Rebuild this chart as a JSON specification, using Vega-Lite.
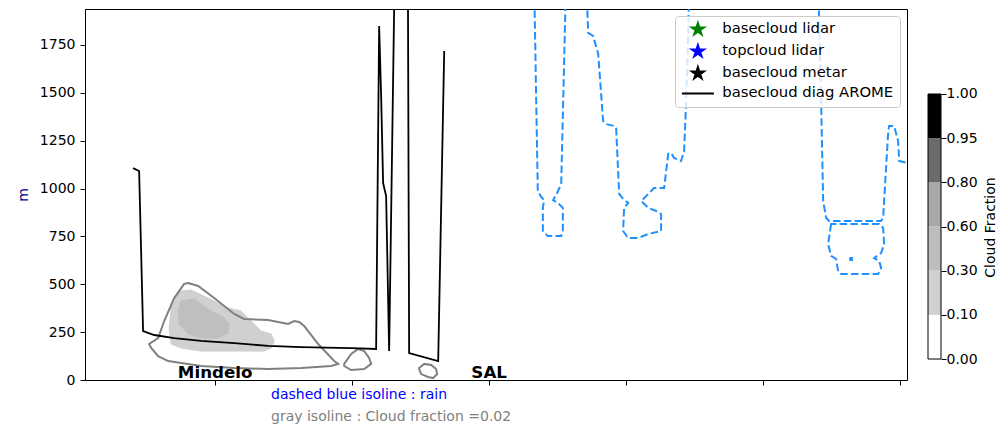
{
  "$schema": "https://vega.github.io/schema/vega-lite/v6.json",
  "background": "white",
  "padding": {"left": 15, "top": 8, "right": 0, "bottom": 0},
  "config": {"font": "DejaVu Sans", "view": {"stroke": null}},
  "datasets": {
    "arome": [
      {"i": 1, "x": -59.9, "y": 1107}, {"i": 2, "x": -55.5, "y": 1092}, {"i": 3, "x": -52.6, "y": 256},
      {"i": 4, "x": -44.5, "y": 235}, {"i": 5, "x": -29.9, "y": 219}, {"i": 6, "x": -10.2, "y": 204},
      {"i": 7, "x": 13.9, "y": 193}, {"i": 8, "x": 38.7, "y": 178}, {"i": 9, "x": 62.8, "y": 172},
      {"i": 10, "x": 99.3, "y": 167}, {"i": 11, "x": 117.5, "y": 162}, {"i": 12, "x": 119.7, "y": 1849},
      {"i": 13, "x": 121.2, "y": 1473}, {"i": 14, "x": 122.6, "y": 1029}, {"i": 15, "x": 124.8, "y": 961},
      {"i": 16, "x": 127.0, "y": 151}, {"i": 17, "x": 131.8, "y": 2502}, {"i": 18, "x": 140.5, "y": 2502},
      {"i": 19, "x": 141.6, "y": 141}, {"i": 20, "x": 162.8, "y": 99}, {"i": 21, "x": 167.2, "y": 1719}
    ],
    "fill": [
      {"level": "0.10-0.30", "i": 1, "x": -24.8, "y": 465}, {"level": "0.10-0.30", "i": 2, "x": -17.5, "y": 470},
      {"level": "0.10-0.30", "i": 3, "x": -5.1, "y": 428}, {"level": "0.10-0.30", "i": 4, "x": 9.5, "y": 376},
      {"level": "0.10-0.30", "i": 5, "x": 19.0, "y": 360}, {"level": "0.10-0.30", "i": 6, "x": 33.6, "y": 256},
      {"level": "0.10-0.30", "i": 7, "x": 40.9, "y": 240}, {"level": "0.10-0.30", "i": 8, "x": 43.1, "y": 204},
      {"level": "0.10-0.30", "i": 9, "x": 40.9, "y": 167}, {"level": "0.10-0.30", "i": 10, "x": 35.8, "y": 151},
      {"level": "0.10-0.30", "i": 11, "x": 13.9, "y": 151}, {"level": "0.10-0.30", "i": 12, "x": -10.2, "y": 151},
      {"level": "0.10-0.30", "i": 13, "x": -24.8, "y": 167}, {"level": "0.10-0.30", "i": 14, "x": -32.1, "y": 188},
      {"level": "0.10-0.30", "i": 15, "x": -33.6, "y": 272}, {"level": "0.10-0.30", "i": 16, "x": -32.1, "y": 376},
      {"level": "0.10-0.30", "i": 17, "x": -27.0, "y": 449},
      {"level": "0.30-0.60", "i": 1, "x": -24.8, "y": 413}, {"level": "0.30-0.60", "i": 2, "x": -15.3, "y": 423},
      {"level": "0.30-0.60", "i": 3, "x": -2.9, "y": 360}, {"level": "0.30-0.60", "i": 4, "x": 6.6, "y": 324},
      {"level": "0.30-0.60", "i": 5, "x": 10.2, "y": 293}, {"level": "0.30-0.60", "i": 6, "x": 9.5, "y": 246},
      {"level": "0.30-0.60", "i": 7, "x": 2.2, "y": 219}, {"level": "0.30-0.60", "i": 8, "x": -10.2, "y": 219},
      {"level": "0.30-0.60", "i": 9, "x": -19.7, "y": 240}, {"level": "0.30-0.60", "i": 10, "x": -26.3, "y": 293},
      {"level": "0.30-0.60", "i": 11, "x": -27.0, "y": 360}
    ],
    "cf002": [
      {"shape": "G1", "i": 1, "x": -19.7, "y": 507}, {"shape": "G1", "i": 2, "x": -12.4, "y": 491},
      {"shape": "G1", "i": 3, "x": -0.7, "y": 428}, {"shape": "G1", "i": 4, "x": 13.9, "y": 345},
      {"shape": "G1", "i": 5, "x": 21.2, "y": 319}, {"shape": "G1", "i": 6, "x": 38.7, "y": 313},
      {"shape": "G1", "i": 7, "x": 53.3, "y": 293}, {"shape": "G1", "i": 8, "x": 57.7, "y": 308},
      {"shape": "G1", "i": 9, "x": 61.3, "y": 303}, {"shape": "G1", "i": 10, "x": 65.0, "y": 282},
      {"shape": "G1", "i": 11, "x": 75.2, "y": 188}, {"shape": "G1", "i": 12, "x": 86.9, "y": 99},
      {"shape": "G1", "i": 13, "x": 89.8, "y": 84}, {"shape": "G1", "i": 14, "x": 84.7, "y": 73},
      {"shape": "G1", "i": 15, "x": 62.8, "y": 63}, {"shape": "G1", "i": 16, "x": 38.7, "y": 57},
      {"shape": "G1", "i": 17, "x": 13.9, "y": 63}, {"shape": "G1", "i": 18, "x": -10.2, "y": 73},
      {"shape": "G1", "i": 19, "x": -34.3, "y": 99}, {"shape": "G1", "i": 20, "x": -41.6, "y": 125},
      {"shape": "G1", "i": 21, "x": -46.7, "y": 167}, {"shape": "G1", "i": 22, "x": -48.2, "y": 188},
      {"shape": "G1", "i": 23, "x": -41.6, "y": 219}, {"shape": "G1", "i": 24, "x": -37.2, "y": 308},
      {"shape": "G1", "i": 25, "x": -29.9, "y": 428}, {"shape": "G1", "i": 26, "x": -22.6, "y": 502},
      {"shape": "G2", "i": 1, "x": 94.2, "y": 84}, {"shape": "G2", "i": 2, "x": 99.3, "y": 136},
      {"shape": "G2", "i": 3, "x": 104.4, "y": 162}, {"shape": "G2", "i": 4, "x": 108.8, "y": 151},
      {"shape": "G2", "i": 5, "x": 112.4, "y": 115}, {"shape": "G2", "i": 6, "x": 113.9, "y": 84},
      {"shape": "G2", "i": 7, "x": 108.8, "y": 57}, {"shape": "G2", "i": 8, "x": 99.3, "y": 52},
      {"shape": "G2", "i": 9, "x": 94.2, "y": 73},
      {"shape": "G3", "i": 1, "x": 148.9, "y": 63}, {"shape": "G3", "i": 2, "x": 152.6, "y": 84},
      {"shape": "G3", "i": 3, "x": 157.7, "y": 78}, {"shape": "G3", "i": 4, "x": 161.3, "y": 57},
      {"shape": "G3", "i": 5, "x": 162.0, "y": 31}, {"shape": "G3", "i": 6, "x": 159.1, "y": 10},
      {"shape": "G3", "i": 7, "x": 155.5, "y": 16}, {"shape": "G3", "i": 8, "x": 150.4, "y": 31},
      {"shape": "G3", "i": 9, "x": 148.9, "y": 57}
    ],
    "rainOpen": [
      {"shape": "A", "i": 1, "x": 232.8, "y": 2100}, {"shape": "A", "i": 2, "x": 235.5, "y": 987},
      {"shape": "A", "i": 3, "x": 238.0, "y": 956}, {"shape": "A", "i": 4, "x": 240.1, "y": 940},
      {"shape": "A", "i": 5, "x": 239.2, "y": 899}, {"shape": "A", "i": 6, "x": 239.2, "y": 778},
      {"shape": "A", "i": 7, "x": 242.8, "y": 752}, {"shape": "A", "i": 8, "x": 252.6, "y": 752},
      {"shape": "A", "i": 9, "x": 253.8, "y": 778}, {"shape": "A", "i": 10, "x": 253.8, "y": 899},
      {"shape": "A", "i": 11, "x": 250.1, "y": 925}, {"shape": "A", "i": 12, "x": 246.7, "y": 940},
      {"shape": "A", "i": 13, "x": 249.6, "y": 977}, {"shape": "A", "i": 14, "x": 252.6, "y": 1024},
      {"shape": "A", "i": 15, "x": 256.2, "y": 2100},
      {"shape": "B", "i": 1, "x": 270.8, "y": 2100}, {"shape": "B", "i": 2, "x": 272.3, "y": 1813},
      {"shape": "B", "i": 3, "x": 275.9, "y": 1797}, {"shape": "B", "i": 4, "x": 279.6, "y": 1703},
      {"shape": "B", "i": 5, "x": 283.2, "y": 1353}, {"shape": "B", "i": 6, "x": 285.4, "y": 1337},
      {"shape": "B", "i": 7, "x": 291.2, "y": 1327}, {"shape": "B", "i": 8, "x": 292.7, "y": 1316},
      {"shape": "B", "i": 9, "x": 294.9, "y": 972}, {"shape": "B", "i": 10, "x": 297.8, "y": 946},
      {"shape": "B", "i": 11, "x": 301.5, "y": 925}, {"shape": "B", "i": 12, "x": 298.5, "y": 899},
      {"shape": "B", "i": 13, "x": 297.8, "y": 778}, {"shape": "B", "i": 14, "x": 301.5, "y": 742},
      {"shape": "B", "i": 15, "x": 308.8, "y": 742}, {"shape": "B", "i": 16, "x": 316.1, "y": 763},
      {"shape": "B", "i": 17, "x": 325.5, "y": 778}, {"shape": "B", "i": 18, "x": 325.5, "y": 867},
      {"shape": "B", "i": 19, "x": 321.9, "y": 883}, {"shape": "B", "i": 20, "x": 316.1, "y": 899},
      {"shape": "B", "i": 21, "x": 311.0, "y": 935}, {"shape": "B", "i": 22, "x": 316.1, "y": 972},
      {"shape": "B", "i": 23, "x": 320.4, "y": 1003}, {"shape": "B", "i": 24, "x": 327.7, "y": 1003},
      {"shape": "B", "i": 25, "x": 330.7, "y": 1181}, {"shape": "B", "i": 26, "x": 332.8, "y": 1186},
      {"shape": "B", "i": 27, "x": 335.0, "y": 1160}, {"shape": "B", "i": 28, "x": 340.1, "y": 1144},
      {"shape": "B", "i": 29, "x": 342.3, "y": 1196}, {"shape": "B", "i": 30, "x": 343.8, "y": 1457},
      {"shape": "B", "i": 31, "x": 345.3, "y": 1808}, {"shape": "B", "i": 32, "x": 346.0, "y": 2100},
      {"shape": "C", "i": 1, "x": 440.1, "y": 2100}, {"shape": "C", "i": 2, "x": 442.3, "y": 1457},
      {"shape": "C", "i": 3, "x": 443.8, "y": 935}, {"shape": "C", "i": 4, "x": 446.0, "y": 846},
      {"shape": "C", "i": 5, "x": 448.2, "y": 831}, {"shape": "C", "i": 6, "x": 486.1, "y": 831},
      {"shape": "C", "i": 7, "x": 487.6, "y": 846}, {"shape": "C", "i": 8, "x": 488.3, "y": 935},
      {"shape": "C", "i": 9, "x": 491.2, "y": 1285}, {"shape": "C", "i": 10, "x": 491.9, "y": 1327},
      {"shape": "C", "i": 11, "x": 495.6, "y": 1327}, {"shape": "C", "i": 12, "x": 498.5, "y": 1249},
      {"shape": "C", "i": 13, "x": 499.3, "y": 1144}, {"shape": "C", "i": 14, "x": 505.1, "y": 1134},
      {"shape": "C", "i": 15, "x": 511.7, "y": 1134}
    ],
    "rainClosed": [
      {"shape": "D", "i": 1, "x": 449.6, "y": 815}, {"shape": "D", "i": 2, "x": 447.4, "y": 710},
      {"shape": "D", "i": 3, "x": 449.6, "y": 648}, {"shape": "D", "i": 4, "x": 453.3, "y": 632},
      {"shape": "D", "i": 5, "x": 454.7, "y": 569}, {"shape": "D", "i": 6, "x": 456.9, "y": 554},
      {"shape": "D", "i": 7, "x": 483.9, "y": 554}, {"shape": "D", "i": 8, "x": 486.1, "y": 585},
      {"shape": "D", "i": 9, "x": 484.7, "y": 622}, {"shape": "D", "i": 10, "x": 481.0, "y": 637},
      {"shape": "D", "i": 11, "x": 486.1, "y": 663}, {"shape": "D", "i": 12, "x": 488.3, "y": 710},
      {"shape": "D", "i": 13, "x": 487.6, "y": 794}, {"shape": "D", "i": 14, "x": 484.7, "y": 815},
      {"shape": "E", "i": 1, "x": 463.6, "y": 637}, {"shape": "E", "i": 2, "x": 464.8, "y": 637},
      {"shape": "E", "i": 3, "x": 464.8, "y": 627}, {"shape": "E", "i": 4, "x": 463.6, "y": 627}
    ],
    "stations": [{"name": "Mindelo", "x": 0, "y": 0}, {"name": "SAL", "x": 200, "y": 0}],
    "bands": [
      {"band": "0.00-0.10", "lo": 0, "hi": 1}, {"band": "0.10-0.30", "lo": 1, "hi": 2},
      {"band": "0.30-0.60", "lo": 2, "hi": 3}, {"band": "0.60-0.80", "lo": 3, "hi": 4},
      {"band": "0.80-0.95", "lo": 4, "hi": 5}, {"band": "0.95-1.00", "lo": 5, "hi": 6}
    ]
  },
  "resolve": {"scale": {"color": "independent", "x": "independent", "y": "independent"}, "legend": {"color": "independent"}},
  "spacing": 19,
  "hconcat": [
    {
      "width": 822,
      "height": 371,
      "view": {"stroke": "black", "strokeWidth": 1},
      "title": {
        "text": "dashed blue isoline : rain",
        "subtitle": "gray isoline : Cloud fraction =0.02",
        "orient": "bottom",
        "anchor": "start",
        "frame": "group",
        "dx": 186,
        "offset": 1,
        "color": "blue",
        "subtitleColor": "gray",
        "font": "DejaVu Sans",
        "subtitleFont": "DejaVu Sans",
        "fontSize": 14,
        "subtitleFontSize": 14,
        "fontWeight": "normal",
        "subtitlePadding": 8
      },
      "encoding": {
        "x": {"field": "x", "type": "quantitative", "scale": {"domain": [-95, 505], "nice": false, "zero": false},
          "axis": {"values": [0, 100, 200, 300, 400, 500], "labels": false, "title": null, "domain": false, "grid": false, "tickSize": 5, "tickColor": "black", "tickWidth": 1}},
        "y": {"field": "y", "type": "quantitative", "scale": {"domain": [0, 1938], "nice": false, "zero": false},
          "axis": {"values": [0, 250, 500, 750, 1000, 1250, 1500, 1750], "format": "d", "title": "m", "titleColor": "#00008b", "titleFontSize": 14, "titleFontWeight": "normal", "titlePadding": 9,
            "labelFontSize": 14, "labelColor": "black", "labelPadding": 5, "tickSize": 5, "tickColor": "black", "domain": false, "grid": false}}
      },
      "layer": [
        {
          "data": {"name": "fill"},
          "transform": [{"filter": "datum.level === '0.10-0.30'"}],
          "mark": {"type": "line", "interpolate": "linear-closed", "fill": "#d0d0d0", "stroke": "#d0d0d0", "strokeWidth": 1, "clip": true},
          "encoding": {"order": {"field": "i", "type": "quantitative"}}
        },
        {
          "data": {"name": "fill"},
          "transform": [{"filter": "datum.level === '0.30-0.60'"}],
          "mark": {"type": "line", "interpolate": "linear-closed", "fill": "#bfbfbf", "stroke": "#bfbfbf", "strokeWidth": 1, "clip": true},
          "encoding": {"order": {"field": "i", "type": "quantitative"}}
        },
        {
          "data": {"name": "cf002"},
          "mark": {"type": "line", "interpolate": "linear-closed", "stroke": "#808080", "strokeWidth": 2, "clip": true},
          "encoding": {"order": {"field": "i", "type": "quantitative"}, "detail": {"field": "shape", "type": "nominal"}}
        },
        {
          "data": {"name": "rainOpen"},
          "mark": {"type": "line", "stroke": "#1e90ff", "strokeWidth": 2, "strokeDash": [7.5, 3.3], "clip": true},
          "encoding": {"order": {"field": "i", "type": "quantitative"}, "detail": {"field": "shape", "type": "nominal"}}
        },
        {
          "data": {"name": "rainClosed"},
          "mark": {"type": "line", "interpolate": "linear-closed", "stroke": "#1e90ff", "strokeWidth": 2, "strokeDash": [7.5, 3.3], "clip": true},
          "encoding": {"order": {"field": "i", "type": "quantitative"}, "detail": {"field": "shape", "type": "nominal"}}
        },
        {
          "data": {"name": "arome"},
          "mark": {"type": "line", "strokeWidth": 1.8, "clip": true},
          "encoding": {
            "order": {"field": "i", "type": "quantitative"},
            "color": {
              "datum": "basecloud diag AROME",
              "type": "nominal",
              "scale": {"domain": ["basecloud lidar", "topcloud lidar", "basecloud metar", "basecloud diag AROME"], "range": ["green", "blue", "black", "black"]},
              "legend": {
                "title": null,
                "orient": "top-right",
                "offset": 7,
                "fillColor": "rgba(255,255,255,0.8)",
                "strokeColor": "#cccccc",
                "cornerRadius": 3,
                "padding": 6,
                "labelFontSize": 14.8,
                "labelColor": "black",
                "labelFont": "DejaVu Sans",
                "labelLimit": 400,
                "symbolSize": 121,
                "symbolOffset": 9.5,
                "rowPadding": 2,
                "labelOffset": 17,
                "symbolStrokeWidth": 2,
                "encode": {
                  "symbols": {
                    "update": {
                      "shape": {"signal": "datum.value === 'basecloud diag AROME' ? 'M-2.91,0L2.91,0' : 'M0,-1.145L0.257,-0.354L1.089,-0.354L0.416,0.135L0.673,0.926L0,0.437L-0.673,0.926L-0.416,0.135L-1.089,-0.354L-0.257,-0.354Z'"},
                      "fill": {"signal": "datum.value === 'basecloud lidar' ? 'green' : datum.value === 'topcloud lidar' ? 'blue' : datum.value === 'basecloud metar' ? 'black' : 'transparent'"},
                      "stroke": {"signal": "datum.value === 'basecloud diag AROME' ? 'black' : 'transparent'"},
                      "strokeWidth": {"value": 2},
                      "opacity": {"value": 1}
                    }
                  }
                }
              }
            }
          }
        },
        {
          "data": {"name": "stations"},
          "mark": {"type": "text", "fontSize": 16.7, "fontWeight": "bold", "baseline": "alphabetic", "align": "center", "dy": -2, "color": "black", "font": "DejaVu Sans"},
          "encoding": {"text": {"field": "name", "type": "nominal"}}
        }
      ]
    },
    {
      "width": 13,
      "height": 371,
      "view": {"stroke": null},
      "encoding": {
        "x": {"datum": 0, "type": "quantitative", "scale": {"domain": [0, 1], "nice": false}, "axis": null},
        "x2": {"datum": 1}
      },
      "layer": [
        {
          "data": {"name": "bands"},
          "mark": {"type": "rect"},
          "encoding": {
            "y": {"field": "lo", "type": "quantitative", "scale": {"domain": [-0.475, 7.924], "nice": false, "zero": false},
              "axis": {"orient": "right", "values": [0, 1, 2, 3, 4, 5, 6], "labelExpr": "['0.00','0.10','0.30','0.60','0.80','0.95','1.00'][datum.value]",
                "title": "Cloud Fraction", "titleAngle": 270, "titleBaseline": "top", "titleY": 218, "titlePadding": 6, "titleFontSize": 14, "titleFontWeight": "normal", "titleColor": "black",
                "labelFontSize": 14, "labelColor": "black", "labelPadding": 0, "tickSize": 5, "tickColor": "black", "domain": false, "grid": false}},
            "y2": {"field": "hi"},
            "color": {"field": "band", "type": "nominal",
              "scale": {"domain": ["0.00-0.10", "0.10-0.30", "0.30-0.60", "0.60-0.80", "0.80-0.95", "0.95-1.00"], "range": ["#ffffff", "#d0d0d0", "#bdbdbd", "#a8a8a8", "#6b6b6b", "#000000"]},
              "legend": null}
          }
        },
        {
          "data": {"values": [{}]},
          "mark": {"type": "rect", "fill": null, "fillOpacity": 0, "stroke": "black", "strokeWidth": 1},
          "encoding": {"y": {"datum": 0, "type": "quantitative"}, "y2": {"datum": 6}}
        }
      ]
    }
  ]
}
